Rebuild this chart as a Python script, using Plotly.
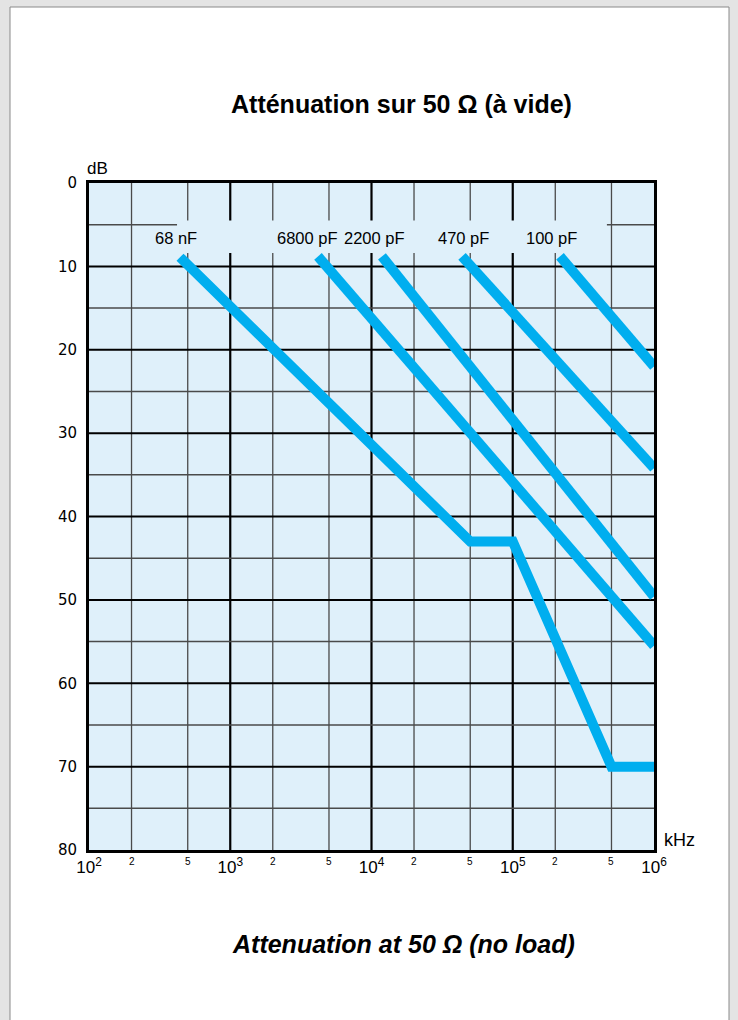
import numpy as np
import plotly.graph_objects as go

# ---------------- data ----------------
capacitors = ["68 nF", "6800 pF", "2200 pF", "470 pF", "100 pF"]

freq_68nF = [441, 50000, 100000, 500000, 1000000]      # kHz
db_68nF = [8.9, 43, 43, 70, 70]                         # dB

freq_6800pF = [4180, 1000000]
db_6800pF = [8.8, 55.5]

freq_2200pF = [11860, 1000000]
db_2200pF = [8.8, 49.6]

freq_470pF = [43750, 1000000]
db_470pF = [8.8, 34.2]

freq_100pF = [216000, 1000000]
db_100pF = [8.8, 22.0]

series_freq = [freq_68nF, freq_6800pF, freq_2200pF, freq_470pF, freq_100pF]
series_db = [db_68nF, db_6800pF, db_2200pF, db_470pF, db_100pF]

# label anchor frequencies (where each capacitor name sits)
label_freq = [413, 3548, 10420, 44460, 186600]
label_db = 6.6

x_decades = [100, 1000, 10000, 100000, 1000000]
x_decade_text = ["10<sup>2</sup>", "10<sup>3</sup>", "10<sup>4</sup>",
                 "10<sup>5</sup>", "10<sup>6</sup>"]
x_minor = [200, 500, 2000, 5000, 20000, 50000, 200000, 500000]
x_minor_text = ["2", "5", "2", "5", "2", "5", "2", "5"]
y_ticks = [0, 10, 20, 30, 40, 50, 60, 70, 80]
y_minor = [5, 15, 25, 35, 45, 55, 65, 75]

title_fr = "Atténuation sur 50 Ω (à vide)"
title_en = "Attenuation at 50 Ω (no load)"

# ---------------- styling ----------------
W, H = 738, 1020
ML, MR, MT, MB = 89, 84, 183, 170
PW, PH = W - ML - MR, H - MT - MB
LINE_COLOR = "#00aeef"
BG_BLUE = "#dff0fa"
PAGE_GRAY = "#e4e4e4"


def px_x(px):
    return (px - ML) / PW


def px_y(py):
    return (H - MB - py) / PH


fig = go.Figure()

for name, f, d in zip(capacitors, series_freq, series_db):
    fig.add_trace(go.Scatter(
        x=f, y=d, mode="lines", name=name,
        line=dict(color=LINE_COLOR, width=10),
        hoverinfo="skip", showlegend=False,
    ))

shapes = []
# white panel
shapes.append(dict(type="rect", xref="paper", yref="paper",
                   x0=px_x(10), x1=px_x(729), y0=px_y(1040), y1=px_y(7),
                   fillcolor="white", line=dict(color="#8a8a8a", width=1),
                   layer="below"))
# plot background
shapes.append(dict(type="rect", xref="x", yref="y",
                   x0=x_decades[0], x1=x_decades[-1], y0=y_ticks[0], y1=y_ticks[-1],
                   fillcolor=BG_BLUE, line=dict(width=0), layer="below"))
# vertical grid
for v in x_decades[1:-1]:
    shapes.append(dict(type="line", xref="x", yref="y", x0=v, x1=v,
                       y0=y_ticks[0], y1=y_ticks[-1],
                       line=dict(color="black", width=2.2), layer="below"))
for v in x_minor:
    shapes.append(dict(type="line", xref="x", yref="y", x0=v, x1=v,
                       y0=y_ticks[0], y1=y_ticks[-1],
                       line=dict(color="#4a4a4a", width=1.3), layer="below"))
# horizontal grid
for v in y_ticks[1:-1]:
    shapes.append(dict(type="line", xref="x", yref="y", x0=x_decades[0], x1=x_decades[-1],
                       y0=v, y1=v, line=dict(color="black", width=2), layer="below"))
for v in y_minor:
    shapes.append(dict(type="line", xref="x", yref="y", x0=x_decades[0], x1=x_decades[-1],
                       y0=v, y1=v, line=dict(color="#4a4a4a", width=1.4), layer="below"))
# label band (hides grid behind capacitor names)
shapes.append(dict(type="rect", xref="x", yref="y",
                   x0=420, x1=464000, y0=4.5, y1=8.4,
                   fillcolor=BG_BLUE, line=dict(width=0), layer="below"))

annotations = []
label_font = dict(family="Liberation Sans, Arial", size=16.5, color="black")
for name, f in zip(capacitors, label_freq):
    annotations.append(dict(x=np.log10(f), y=label_db, xref="x", yref="y",
                            text=name, showarrow=False, font=label_font,
                            xanchor="center", yanchor="middle"))
for v, t in zip(x_minor, x_minor_text):
    annotations.append(dict(x=np.log10(v), y=0, xref="x", yref="paper",
                            text=t, showarrow=False, yanchor="top", yshift=-4,
                            font=dict(family="Liberation Sans, Arial", size=10, color="black")))
annotations.append(dict(x=px_x(97), y=px_y(168), xref="paper", yref="paper",
                        text="dB", showarrow=False, xanchor="center", yanchor="middle",
                        font=dict(family="Liberation Sans, Arial", size=17, color="black")))
annotations.append(dict(x=px_x(679), y=px_y(840), xref="paper", yref="paper",
                        text="kHz", showarrow=False, xanchor="center", yanchor="middle",
                        font=dict(family="Liberation Sans, Arial", size=18, color="black")))
annotations.append(dict(x=px_x(401), y=px_y(104), xref="paper", yref="paper",
                        text="<b>" + title_fr + "</b>", showarrow=False,
                        xanchor="center", yanchor="middle",
                        font=dict(family="Liberation Sans, Arial", size=25, color="black")))
annotations.append(dict(x=px_x(403), y=px_y(944), xref="paper", yref="paper",
                        text="<b><i>" + title_en + "</i></b>", showarrow=False,
                        xanchor="center", yanchor="middle",
                        font=dict(family="Liberation Sans, Arial", size=25, color="black")))

fig.update_layout(
    width=W, height=H, autosize=False,
    margin=dict(l=ML, r=MR, t=MT, b=MB, pad=0),
    paper_bgcolor=PAGE_GRAY, plot_bgcolor="rgba(0,0,0,0)",
    shapes=shapes, annotations=annotations, showlegend=False,
)
fig.update_xaxes(type="log", range=[2, 6], showgrid=False, zeroline=False,
                 showline=True, mirror=True, linecolor="black", linewidth=3,
                 tickvals=x_decades, ticktext=x_decade_text, ticks="",
                 tickfont=dict(family="Liberation Sans, Arial", size=17, color="black"))
fig.update_yaxes(range=[80, 0], showgrid=False, zeroline=False,
                 showline=True, mirror=True, linecolor="black", linewidth=3,
                 tickvals=y_ticks, ticks="", ticklabelstandoff=6,
                 tickfont=dict(family="DejaVu Sans, Liberation Sans", size=15, color="black"))

page_css = ("document.body.style.margin='0';document.body.style.padding='0';"
            "document.body.style.background='" + PAGE_GRAY + "';"
            "document.body.style.overflow='hidden';")
fig.write_html("out.html", post_script=page_css,
               config={"displayModeBar": False, "staticPlot": True})
